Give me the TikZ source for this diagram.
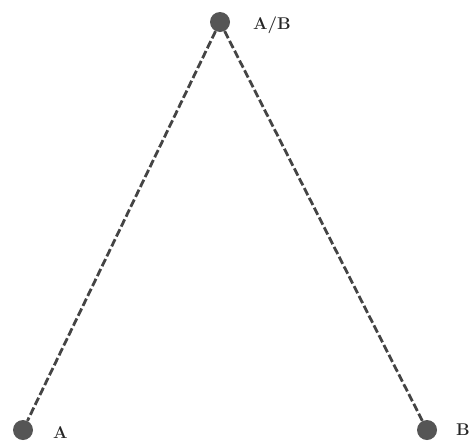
\documentclass[tikz,border=0pt]{standalone}
\usepackage{fontspec}
\usepackage{tikz}
\usetikzlibrary{positioning}

\definecolor{dotgray}{HTML}{555555}
\definecolor{linegray}{HTML}{444444}

\tikzset{
  vertex/.style={circle, fill=dotgray, minimum size=20pt, inner sep=0pt},
  vlabel/.style={font=\fontsize{17}{19}\selectfont\bfseries, text=black!85, inner sep=1pt},
  edge/.style={draw=linegray, line width=2.8pt, dash pattern=on 8pt off 3pt}
}

\begin{document}
\begin{tikzpicture}[x=1pt, y=-1pt]
  \useasboundingbox (0,0) rectangle (470,442);
  \node[vertex] (ab) at (220,22) {};
  \node[vertex] (a) at (23,430) {};
  \node[vertex] (b) at (427,430) {};
  \node[vlabel, anchor=west] (lab) at (252,25) {A/B};
  \node[vlabel, anchor=west] (la) at (52,433) {A};
  \node[vlabel, anchor=west] (lb) at (455,430) {B};
  \draw[edge] (ab) -- (a);
  \draw[edge] (ab) -- (b);
\end{tikzpicture}
\end{document}
